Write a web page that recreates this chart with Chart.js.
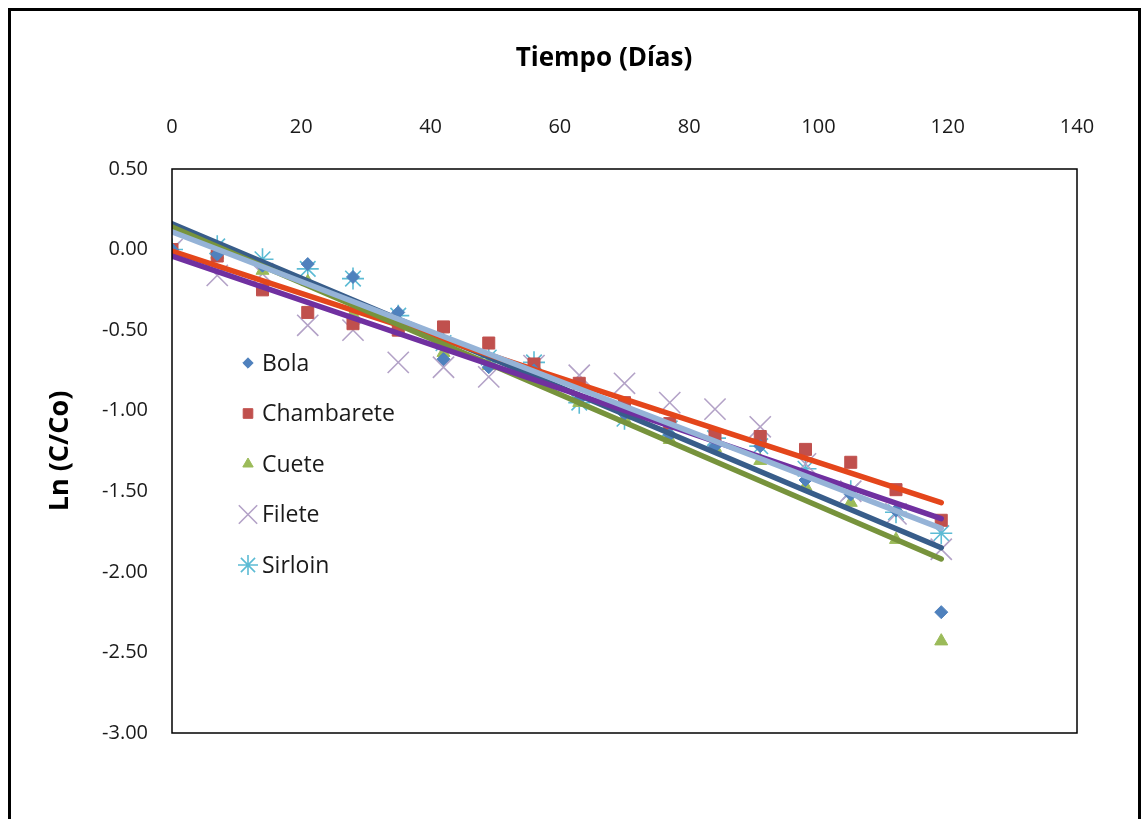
<!DOCTYPE html>
<html>
<head>
<meta charset="utf-8">
<script src="https://cdn.jsdelivr.net/npm/chart.js@4.4.1/dist/chart.umd.min.js"></script>
<style>
  html, body { margin: 0; padding: 0; background: #fff; }
  canvas { display: block; }
</style>
</head>
<body>
<canvas id="c" width="1143" height="819"></canvas>
<script>
// ---- data ----
const days = [0, 7, 14, 21, 28, 35, 42, 49, 56, 63, 70, 77, 84, 91, 98, 105, 112, 119];
const seriesNames = ["Bola", "Chambarete", "Cuete", "Filete", "Sirloin"];
const bola       = [0, -0.03, -0.10, -0.09, -0.17, -0.39, -0.68, -0.73, -0.75, -0.93, -1.02, -1.15, -1.22, -1.22, -1.43, -1.52, -1.62, -2.25];
const chambarete = [0, -0.04, -0.25, -0.39, -0.46, -0.50, -0.48, -0.58, -0.71, -0.83, -0.95, -1.08, -1.15, -1.16, -1.24, -1.32, -1.49, -1.68];
const cuete      = [0, -0.03, -0.13, -0.20, -0.40, -0.47, -0.64, -0.72, -0.78, -0.95, -1.05, -1.18, -1.23, -1.31, -1.47, -1.57, -1.80, -2.43];
const filete     = [0, -0.16, -0.15, -0.47, -0.50, -0.70, -0.73, -0.79, -0.72, -0.78, -0.83, -0.95, -0.99, -1.10, -1.33, -1.50, -1.64, -1.86];
const sirloin    = [0, 0.02, -0.06, -0.12, -0.18, -0.41, -0.58, -0.67, -0.70, -0.95, -1.05, -1.11, -1.17, -1.22, -1.36, -1.50, -1.63, -1.76];
// linear trend lines: value at first and last day
const trendDays  = [0, 119];
const trendBola       = [0.16, -1.85];
const trendChambarete = [-0.01, -1.57];
const trendCuete      = [0.14, -1.92];
const trendFilete     = [-0.04, -1.67];
const trendSirloin    = [0.11, -1.73];
const xTitle = 'Tiempo (Días)';
const yTitle = 'Ln (C/Co)';
const xTicksMin = 0, xTicksMax = 140, xStep = 20;
const yTicksMin = -3, yTicksMax = 0.5, yStep = 0.5;

const values = [bola, chambarete, cuete, filete, sirloin];
const trends = [trendBola, trendChambarete, trendCuete, trendFilete, trendSirloin];
const markerStyles = [
  { pointStyle: 'rectRot',  color: '#4f81bd', radius: 6.5, bw: 1 },
  { pointStyle: 'rect',     color: '#c0504d', radius: 8.5, bw: 1 },
  { pointStyle: 'triangle', color: '#9bbb59', radius: 7.5, bw: 1 },
  { pointStyle: 'crossRot', color: '#b3a2c7', radius: 15,  bw: 1.6 },
  { pointStyle: 'star',     color: '#5cbbd4', radius: 11,  bw: 1.6 }
];
const trendColors = ['#385d8a', '#e4461b', '#77933c', '#7030a0', '#95b3d7'];

const FONT = "'Open Sans', 'Noto Sans', sans-serif";

const datasets = [];
seriesNames.forEach((name, i) => {
  const m = markerStyles[i];
  datasets.push({
    type: 'scatter',
    label: name,
    data: days.map((d, k) => ({ x: d, y: values[i][k] })),
    pointStyle: m.pointStyle,
    pointRadius: m.radius,
    pointBackgroundColor: m.color,
    pointBorderColor: m.color,
    pointBorderWidth: m.bw,
    showLine: false,
    order: 10
  });
});
seriesNames.forEach((name, i) => {
  datasets.push({
    type: 'line',
    label: name + ' trend',
    data: trendDays.map((d, k) => ({ x: d, y: trends[i][k] })),
    borderColor: trendColors[i],
    borderWidth: 5.5,
    pointRadius: 0,
    borderCapStyle: 'round',
    fill: false,
    order: 5 - i
  });
});

const framePlugin = {
  id: 'frame',
  beforeDraw(chart) {
    const ctx = chart.ctx;
    ctx.save();
    ctx.fillStyle = '#fff';
    ctx.fillRect(0, 0, chart.width, chart.height);
    ctx.restore();
  },
  afterDraw(chart) {
    const ctx = chart.ctx;
    const a = chart.chartArea;
    ctx.save();
    ctx.strokeStyle = '#000';
    ctx.lineWidth = 1.5;
    ctx.strokeRect(a.left, a.top, a.right - a.left, a.bottom - a.top);
    ctx.lineWidth = 3;
    ctx.strokeRect(9.5, 9.5, 1130, 830);
    // x axis title
    ctx.fillStyle = '#000';
    ctx.font = "bold 26px " + FONT;
    ctx.textAlign = 'center';
    ctx.textBaseline = 'middle';
    ctx.fillText(xTitle, 604, 59);
    // legend inside plot area
    const lx = 248, ly0 = 363, dy = 50.5;
    ctx.font = "23px " + FONT;
    ctx.textBaseline = 'middle';
    ctx.textAlign = 'left';
    seriesNames.forEach((name, i) => {
      const m = markerStyles[i];
      const y = ly0 + dy * i;
      ctx.fillStyle = m.color;
      ctx.strokeStyle = m.color;
      ctx.lineWidth = m.bw;
      const r = (i === 3) ? 13 : (i === 4 ? 10 : m.radius * 0.8);
      Chart.helpers.drawPoint(ctx, { pointStyle: m.pointStyle, radius: r, rotation: 0, borderWidth: m.bw }, lx, y);
      ctx.fillStyle = '#1a1a1a';
      ctx.fillText(name, 262, y + 1);
    });
    ctx.restore();
  }
};

new Chart(document.getElementById('c'), {
  data: { datasets },
  options: {
    responsive: false,
    animation: false,
    layout: { padding: { left: 0, top: 0, right: 66, bottom: 86 } },
    plugins: { legend: { display: false }, tooltip: { enabled: false } },
    scales: {
      x: {
        type: 'linear',
        position: 'top',
        min: xTicksMin, max: xTicksMax,
        ticks: { stepSize: xStep, color: '#1a1a1a', font: { family: FONT, size: 20 }, padding: 30, maxRotation: 0 },
        grid: { display: false, drawTicks: false },
        border: { display: false },
        afterFit(s) { s.height = 169; }
      },
      y: {
        type: 'linear',
        min: yTicksMin, max: yTicksMax,
        ticks: { stepSize: yStep, color: '#1a1a1a', font: { family: FONT, size: 20 }, padding: 24, callback: v => v.toFixed(2) },
        grid: { display: false, drawTicks: false },
        border: { display: false },
        title: { display: true, text: yTitle, color: '#000', font: { family: FONT, size: 27, weight: 'bold' }, padding: { top: 44, bottom: 0 } },
        afterFit(s) { s.width = 172; }
      }
    }
  },
  plugins: [framePlugin]
});
</script>
</body>
</html>
